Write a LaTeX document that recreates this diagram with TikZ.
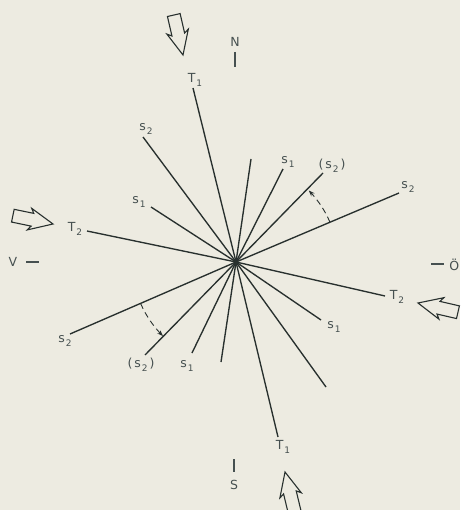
\documentclass[tikz,border=0pt]{standalone}
\usepackage{fontspec}
\setmainfont{DejaVu Sans}
\usetikzlibrary{arrows.meta,calc}
\definecolor{bg}{RGB}{237,235,225}
\definecolor{ink}{RGB}{40,48,46}
\definecolor{txt}{RGB}{70,80,80}
\newcommand\lsub[2]{#1\kern0.8pt\raisebox{-3.5pt}{\fontsize{9}{9}\selectfont #2}}
\begin{document}
\begin{tikzpicture}[x=1pt,y=-1pt,
  ray/.style={draw=ink,line width=1.35pt},
  lbl/.style={text=txt,font=\fontsize{12.5}{13}\selectfont,inner sep=0pt},
  tick/.style={draw=txt,line width=1.1pt},
  rotarrow/.style={draw=ink,line width=0.9pt,dash pattern=on 6pt off 4pt,-{Stealth[length=6pt,width=4.5pt,open]}},
  blkarrow/.pic={\draw[ink,line width=1.1pt,line join=miter]
     (-41,-6.5) -- (-21,-6.5) -- (-24,-11) -- (0,0) -- (-24,11) -- (-21,6.5) -- (-41,6.5) -- cycle;}]
\fill[bg] (0,0) rectangle (460,510);
\useasboundingbox (0,0) rectangle (460,510);
\coordinate (C) at (236,262);
% ray end points
\coordinate (t1a) at (193,88);  \coordinate (t1b) at (278,437);
\coordinate (t2a) at (87,231);  \coordinate (t2b) at (385,296);
\coordinate (s2a) at (143,137); \coordinate (ua2) at (326,387);
\coordinate (s1a) at (151,207); \coordinate (s1b) at (321,320);
\coordinate (s2c) at (70,334);  \coordinate (s2d) at (399,193);
\coordinate (p2a) at (145,355); \coordinate (p2b) at (323,173);
\coordinate (s1c) at (192,353); \coordinate (s1d) at (283,169);
\coordinate (ua) at (221,362);  \coordinate (ub) at (251,159);
\foreach \e in {t1a,t1b,t2a,t2b,s2a,ua2,s1a,s1b,s2c,s2d,p2a,p2b,s1c,s1d,ua,ub}
  \draw[ray] (C) -- (\e);
\fill[ink] (C) circle (2.3pt);
% labels
\node[lbl] (Lt1a) at (195,80)  {\lsub{T}{1}};
\node[lbl] (Lt1b) at (283,447) {\lsub{T}{1}};
\node[lbl] (Lt2a) at (75,229)  {\lsub{T}{2}};
\node[lbl] (Lt2b) at (397,297) {\lsub{T}{2}};
\node[lbl] (Ls2a) at (146,129) {\lsub{s}{2}};
\node[lbl] (Ls1a) at (139,202) {\lsub{s}{1}};
\node[lbl] (Ls2c) at (65,341)  {\lsub{s}{2}};
\node[lbl] (Lp2a) at (141,365) {(\kern2pt\lsub{s}{2}\kern2pt)};
\node[lbl] (Ls1c) at (187,366) {\lsub{s}{1}};
\node[lbl] (Ls1b) at (334,327) {\lsub{s}{1}};
\node[lbl] (Ls2d) at (408,187) {\lsub{s}{2}};
\node[lbl] (Lp2b) at (332,166) {(\kern2pt\lsub{s}{2}\kern2pt)};
\node[lbl] (Ls1d) at (288,162) {\lsub{s}{1}};
% compass
\node[lbl] (N) at (235,42) {N};
\node[lbl] (S) at (234,485) {S};
\node[lbl] (V) at (13,262) {V};
\node[lbl,anchor=east] (O) at (459.5,265) {Ö};
\draw[tick] (235,52) -- (235,67);
\draw[tick] (234,459) -- (234,472);
\draw[tick] (26,262) -- (39,262);
\draw[tick] (431,264) -- (444,264);
% rotation arrows
\draw[rotarrow] plot[domain=-23:-44.5,samples=25] ({236+102*cos(\x)},{262+102*sin(\x)});
\draw[rotarrow] plot[domain=156.6:134.6,samples=25] ({236+104*cos(\x)},{262+104*sin(\x)});
% wind arrows
\path (183,55) pic[rotate=-77] {blkarrow};
\path (53,224) pic[rotate=-11.7] {blkarrow};
\path (418,303) pic[rotate=167] {blkarrow};
\path (285,472) pic[rotate=103.5] {blkarrow};
\end{tikzpicture}
\end{document}
